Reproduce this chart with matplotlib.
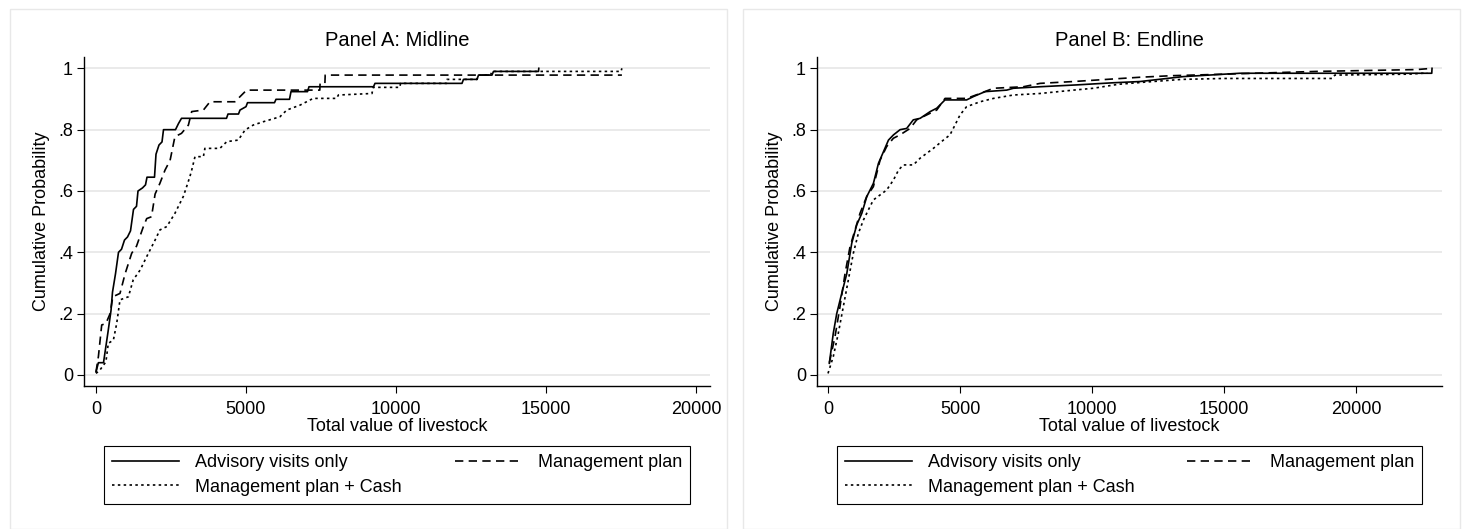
import matplotlib
matplotlib.use("Agg")
import matplotlib.pyplot as plt
from matplotlib.lines import Line2D
from matplotlib.patches import Rectangle

plt.rcParams['font.family'] = ['Liberation Sans', 'DejaVu Sans']

# Panel A: Midline
a_adv_x = [0, 80, 250, 400, 500, 550, 650, 750, 850, 950, 1050, 1150, 1250, 1350, 1400, 1550,
           1650, 1700, 1950, 2000, 2100, 2200, 2250, 2650, 2750, 2850, 4350, 4400, 4750, 4800,
           5000, 5050, 5950, 6000, 6450, 6500, 7050, 7100, 9250, 9300, 12200, 12250, 12700,
           12750, 13200, 13250, 14750, 14760]
a_adv_y = [0.01, 0.04, 0.04, 0.14, 0.21, 0.27, 0.33, 0.40, 0.41, 0.44, 0.45, 0.47, 0.54, 0.55,
           0.60, 0.61, 0.62, 0.645, 0.645, 0.72, 0.75, 0.76, 0.80, 0.80, 0.82, 0.837, 0.837,
           0.851, 0.851, 0.864, 0.875, 0.888, 0.888, 0.899, 0.899, 0.924, 0.924, 0.940, 0.940,
           0.951, 0.951, 0.964, 0.964, 0.978, 0.978, 0.99, 0.99, 1.0]

a_plan_x = [0, 80, 190, 330, 470, 560, 800, 970, 1190, 1350, 1580, 1690, 1850, 1970, 2130,
            2300, 2470, 2630, 2850, 3080, 3190, 3580, 3800, 4630, 5020, 7460, 7470, 7630,
            7640, 17530]
a_plan_y = [0.01, 0.06, 0.163, 0.168, 0.20, 0.255, 0.266, 0.33, 0.397, 0.42, 0.484, 0.51,
            0.516, 0.59, 0.625, 0.668, 0.70, 0.777, 0.788, 0.815, 0.859, 0.864, 0.891, 0.891,
            0.929, 0.929, 0.951, 0.951, 0.978, 0.978]

a_cash_x = [0, 130, 330, 410, 580, 690, 800, 1080, 1240, 1470, 1690, 1970, 2130, 2360, 2630,
            2910, 3020, 3130, 3190, 3300, 3580, 3630, 4130, 4360, 4740, 4970, 5240, 5580, 6130,
            6360, 6800, 7240, 8020, 8080, 9200, 9240, 10130, 10150, 11690, 11700, 12700, 12750,
            13150, 13200, 17500, 17530]
a_cash_y = [0.005, 0.016, 0.043, 0.103, 0.114, 0.168, 0.245, 0.255, 0.31, 0.342, 0.386, 0.44,
            0.473, 0.484, 0.527, 0.582, 0.614, 0.647, 0.668, 0.712, 0.712, 0.739, 0.739, 0.761,
            0.766, 0.799, 0.815, 0.826, 0.842, 0.864, 0.88, 0.902, 0.902, 0.913, 0.918, 0.938,
            0.938, 0.951, 0.951, 0.964, 0.964, 0.978, 0.978, 0.99, 0.99, 1.0]

# Panel B: Endline
b_adv_x = [50, 200, 330, 520, 710, 900, 1090, 1280, 1470, 1720, 1910, 2100, 2290, 2480, 2730,
           2980, 3230, 3490, 3870, 4120, 4430, 5250, 5510, 5950, 6770, 7020, 8030, 9420, 10810,
           11820, 13450, 15600, 22870, 22880]
b_adv_y = [0.038, 0.136, 0.2, 0.266, 0.33, 0.43, 0.49, 0.527, 0.582, 0.625, 0.69, 0.728, 0.766,
           0.783, 0.80, 0.804, 0.832, 0.837, 0.859, 0.87, 0.897, 0.897, 0.908, 0.924, 0.929,
           0.935, 0.94, 0.946, 0.953, 0.957, 0.973, 0.984, 0.984, 1.0]

b_plan_x = [50, 76, 265, 455, 644, 833, 1023, 1212, 1465, 1718, 1970, 2223, 2476, 2728, 3107,
            3359, 3738, 4118, 4433, 5254, 5760, 6265, 7401, 8033, 9296, 10559, 11821, 13000,
            15000, 18500, 22300, 22880]
b_plan_y = [0.04, 0.05, 0.125, 0.223, 0.33, 0.418, 0.473, 0.527, 0.582, 0.614, 0.70, 0.745,
            0.772, 0.783, 0.804, 0.832, 0.848, 0.864, 0.902, 0.902, 0.918, 0.935, 0.94, 0.951,
            0.957, 0.964, 0.971, 0.976, 0.981, 0.99, 0.996, 1.0]

b_cash_x = [0, 200, 390, 580, 770, 960, 1150, 1340, 1590, 1720, 1970, 2220, 2480, 2670, 2850,
            3230, 3490, 3740, 3990, 4370, 4620, 4810, 5000, 5250, 5760, 6270, 7020, 8030, 9300,
            10050, 11000, 12000, 13400, 15000, 19100, 19200, 22000, 22700]
b_cash_y = [0.005, 0.06, 0.136, 0.223, 0.31, 0.397, 0.462, 0.505, 0.549, 0.571, 0.587, 0.603,
            0.636, 0.668, 0.685, 0.685, 0.707, 0.723, 0.739, 0.766, 0.783, 0.815, 0.848, 0.875,
            0.891, 0.902, 0.913, 0.918, 0.929, 0.935, 0.948, 0.955, 0.964, 0.967, 0.967, 0.978,
            0.981, 0.985]

labels = ["Advisory visits only", "Management plan", "Management plan + Cash"]
yticks = [0, 0.2, 0.4, 0.6, 0.8, 1]
yticklabels = ["0", ".2", ".4", ".6", ".8", "1"]
xticks = [0, 5000, 10000, 15000, 20000]

W, H = 1463, 529
fig = plt.figure(figsize=(W / 100, H / 100), dpi=100)

lw = 1.2
styles = ["-", (0, (5.0, 3.2)), (0, (1.5, 2.0))]

panels = [
    ("Panel A: Midline", (84, 710), (-400, 20467), (10, 727),
     [(a_adv_x, a_adv_y), (a_plan_x, a_plan_y), (a_cash_x, a_cash_y)]),
    ("Panel B: Endline", (817, 1442), (-417, 23258), (743, 1460),
     [(b_adv_x, b_adv_y), (b_plan_x, b_plan_y), (b_cash_x, b_cash_y)]),
]

for title, (px0, px1), xlim, (bx0, bx1), series in panels:
    # light outer panel box
    fig.patches.append(Rectangle((bx0 / W, 0.0), (bx1 - bx0) / W, 1 - 9 / H,
                                 transform=fig.transFigure, fill=False,
                                 edgecolor="#e8e8e8", linewidth=1.0))
    ax = fig.add_axes([px0 / W, 1 - 386 / H, (px1 - px0) / W, (386 - 57) / H])
    for (x, y), ls in zip(series, styles):
        ax.plot(x, y, color="black", linewidth=lw, linestyle=ls)
    ax.set_xlim(*xlim)
    ax.set_ylim(-0.036, 1.037)
    ax.set_yticks(yticks)
    ax.set_yticklabels(yticklabels)
    ax.set_xticks(xticks)
    ax.grid(axis="y", color="#e6e6e6", linewidth=1.2)
    ax.set_axisbelow(True)
    for s in ["top", "right"]:
        ax.spines[s].set_visible(False)
    ax.spines["left"].set_linewidth(1.0)
    ax.spines["bottom"].set_linewidth(1.0)
    ax.tick_params(axis="both", length=5, width=0.8, labelsize=13, color="black")
    ax.tick_params(axis="x", pad=6)
    ax.tick_params(axis="y", pad=3)
    ax.set_title(title, fontsize=14.5, pad=8)
    ax.set_xlabel("Total value of livestock", fontsize=13, labelpad=0)
    ax.set_ylabel("Cumulative Probability", fontsize=13, labelpad=6)

    handles = [Line2D([], [], color="black", linewidth=lw, linestyle=styles[0]),
               Line2D([], [], color="black", linewidth=lw, linestyle=styles[2]),
               Line2D([], [], color="black", linewidth=lw, linestyle=styles[1])]
    leg = ax.legend(handles, [labels[0], labels[2], labels[1]], ncol=2,
                    loc="upper left",
                    bbox_to_anchor=((px0 + 20) / W, 1 - 504 / H, (px1 - px0 - 40) / W, 58 / H),
                    bbox_transform=fig.transFigure, mode="expand", fontsize=13,
                    handlelength=3.7, handletextpad=0.9, labelspacing=0.42,
                    borderpad=0.45, borderaxespad=0, columnspacing=2.0,
                    fancybox=False, edgecolor="black", framealpha=1)
    leg.get_frame().set_linewidth(0.8)

fig.savefig("out.png", dpi=100)
